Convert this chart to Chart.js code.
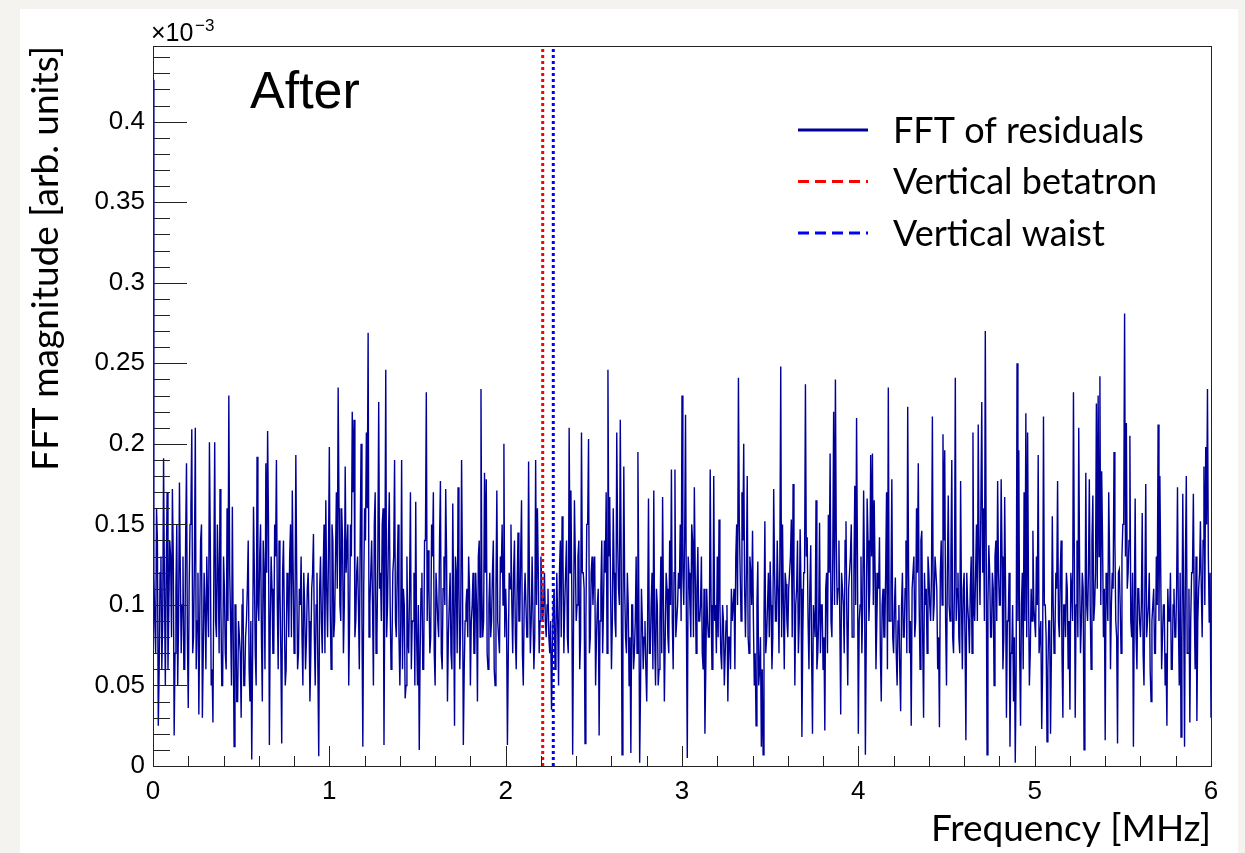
<!DOCTYPE html>
<html>
<head>
<meta charset="utf-8">
<script src="https://cdn.jsdelivr.net/npm/chart.js@4.4.0/dist/chart.umd.min.js"></script>
<style>
  html, body { margin: 0; padding: 0; background: #f4f3ef; width: 1245px; height: 853px; overflow: hidden; }
  #frame { position: absolute; left: 20px; top: 9px; width: 1218px; height: 844px; background: #fff; }
</style>
</head>
<body>
<div id="frame"><canvas id="fft" width="1218" height="844"></canvas></div>
<script>
// FFT magnitude (x1e-3 arb. units).
// magA*: values on the 0.01 MHz grid, magB*: the values half a bin later
const binWidth = 0.01
const magA0 = [0.426,0.09,0.16,0.025,0.12,0.06,0.191,0.05,0.17,0.10,0.13,0.172,0.019,0.11,0.05,0.176,0.07,0.13,0.06,0.188,
  0.036,0.15,0.209,0.08,0.21,0.09,0.032,0.14,0.03,0.12,0.06,0.10,0.201,0.05,0.027,0.201,0.08,0.12,0.172,0.05,
  0.13,0.07,0.16,0.23,0.09,0.161,0.012,0.10,0.04,0.08,0.03,0.11,0.05,0.09,0.14,0.04,0.004,0.161,0.07,0.192,
  0.09,0.15,0.04,0.12,0.188,0.208,0.013,0.13,0.07,0.15,0.19,0.06,0.11,0.014,0.14,0.05,0.12,0.08,0.15,0.171,
  0.07,0.193,0.06,0.11,0.13,0.05,0.10,0.078,0.12,0.04,0.11,0.144,0.05,0.12,0.006,0.13,0.07,0.15,0.165,0.08]
const magA1 = [0.198,0.06,0.14,0.09,0.17,0.235,0.10,0.16,0.07,0.186,0.12,0.05,0.15,0.22,0.215,0.09,0.13,0.06,0.20,0.012,
  0.16,0.207,0.269,0.10,0.14,0.05,0.17,0.08,0.226,0.12,0.15,0.013,0.246,0.10,0.17,0.06,0.12,0.19,0.08,0.15,
  0.05,0.19,0.11,0.042,0.13,0.07,0.17,0.09,0.12,0.164,0.05,0.01,0.11,0.06,0.14,0.232,0.134,0.07,0.15,0.17,
  0.05,0.12,0.08,0.177,0.06,0.13,0.172,0.04,0.10,0.07,0.163,0.025,0.12,0.173,0.06,0.19,0.013,0.09,0.11,0.13,
  0.05,0.10,0.07,0.12,0.04,0.14,0.234,0.08,0.182,0.178,0.06,0.12,0.09,0.14,0.05,0.171,0.08,0.13,0.15,0.20]
const magA2 = [0.11,0.013,0.12,0.15,0.07,0.14,0.06,0.145,0.09,0.165,0.05,0.12,0.08,0.189,0.07,0.13,0.06,0.19,0.16,0.07,
  0.13,0.09,0.12,0.08,0.11,0.07,0.035,0.10,0.06,0.12,0.05,0.14,0.155,0.07,0.12,0.08,0.21,0.171,0.007,0.165,
  0.09,0.13,0.06,0.207,0.12,0.014,0.15,0.203,0.08,0.13,0.12,0.05,0.10,0.019,0.11,0.07,0.14,0.17,0.246,0.167,
  0.06,0.16,0.09,0.207,0.11,0.215,0.007,0.186,0.08,0.12,0.05,0.008,0.10,0.07,0.13,0.195,0.002,0.11,0.06,0.09,
  0.04,0.166,0.07,0.12,0.171,0.05,0.10,0.06,0.13,0.167,0.04,0.12,0.08,0.14,0.184,0.06,0.184,0.09,0.12,0.15]
const magA3 = [0.23,0.10,0.218,0.005,0.12,0.08,0.14,0.173,0.07,0.136,0.09,0.13,0.06,0.02,0.11,0.08,0.184,0.06,0.18,0.10,
  0.13,0.153,0.07,0.10,0.05,0.09,0.04,0.08,0.11,0.10,0.06,0.15,0.241,0.12,0.17,0.20,0.08,0.18,0.07,0.12,
  0.146,0.05,0.025,0.127,0.06,0.012,0.007,0.152,0.08,0.12,0.127,0.06,0.172,0.09,0.14,0.07,0.248,0.15,0.06,0.113,
  0.08,0.12,0.153,0.175,0.05,0.11,0.07,0.147,0.018,0.12,0.237,0.142,0.06,0.137,0.02,0.09,0.165,0.07,0.151,0.10,
  0.06,0.022,0.12,0.156,0.194,0.08,0.22,0.24,0.10,0.14,0.032,0.11,0.07,0.152,0.05,0.12,0.15,0.08,0.174,0.216]
const magA4 = [0.02,0.10,0.07,0.171,0.007,0.166,0.09,0.193,0.194,0.165,0.06,0.12,0.142,0.04,0.11,0.08,0.17,0.235,0.09,0.178,
  0.07,0.117,0.05,0.10,0.034,0.12,0.08,0.14,0.223,0.07,0.025,0.11,0.08,0.16,0.188,0.06,0.146,0.03,0.10,0.07,
  0.12,0.09,0.217,0.10,0.13,0.06,0.024,0.14,0.206,0.196,0.05,0.168,0.09,0.19,0.07,0.241,0.11,0.08,0.177,0.06,
  0.12,0.016,0.10,0.07,0.13,0.207,0.09,0.15,0.212,0.10,0.226,0.16,0.27,0.007,0.137,0.08,0.12,0.05,0.14,0.177,
  0.10,0.178,0.06,0.167,0.03,0.09,0.012,0.07,0.04,0.002,0.25,0.196,0.025,0.12,0.17,0.219,0.207,0.05,0.11,0.146]
const magA5 = [0.09,0.13,0.193,0.07,0.023,0.217,0.10,0.015,0.09,0.02,0.155,0.07,0.12,0.177,0.08,0.14,0.03,0.10,0.12,0.06,
  0.035,0.11,0.232,0.03,0.14,0.21,0.07,0.12,0.01,0.182,0.09,0.178,0.06,0.168,0.10,0.225,0.23,0.242,0.183,0.08,
  0.016,0.11,0.17,0.06,0.12,0.195,0.09,0.014,0.122,0.07,0.15,0.281,0.213,0.12,0.205,0.08,0.012,0.166,0.06,0.11,
  0.08,0.157,0.05,0.175,0.09,0.12,0.04,0.10,0.07,0.13,0.212,0.18,0.06,0.10,0.05,0.025,0.09,0.12,0.06,0.11,
  0.08,0.173,0.05,0.018,0.169,0.012,0.18,0.07,0.027,0.12,0.169,0.06,0.028,0.11,0.152,0.08,0.186,0.198,0.234,0.089,
  0.03]

const magB0 = [0.12,0.07,0.14,0.06,0.13,0.09,0.11,0.12,0.06,0.14, 0.08,0.13,0.07,0.15,0.09,0.12,0.10,0.06,0.14,0.08,
  0.11,0.16,0.07,0.13,0.06,0.12,0.09,0.15,0.07,0.10, 0.13,0.08,0.14,0.06,0.12,0.09,0.15,0.07,0.10,0.05,
  0.11,0.06,0.09,0.12,0.05,0.08,0.10,0.04,0.09,0.07, 0.10,0.05,0.08,0.11,0.06,0.09,0.07,0.12,0.05,0.10,
  0.13,0.08,0.14,0.06,0.12,0.15,0.09,0.11,0.07,0.13, 0.10,0.14,0.07,0.12,0.09,0.06,0.11,0.13,0.08,0.12,
  0.09,0.12,0.07,0.10,0.08,0.12,0.06,0.11,0.09,0.07, 0.12,0.08,0.10,0.06,0.11,0.09,0.12,0.07,0.11,0.13]
const magB1 = [0.10,0.15,0.08,0.13,0.11,0.16,0.09,0.14,0.10,0.12, 0.15,0.09,0.13,0.17,0.08,0.12,0.10,0.14,0.09,0.11,
  0.14,0.16,0.08,0.12,0.10,0.15,0.07,0.13,0.11,0.09, 0.16,0.12,0.08,0.14,0.10,0.07,0.13,0.09,0.12,0.08,
  0.09,0.06,0.10,0.05,0.08,0.11,0.06,0.09,0.05,0.08, 0.10,0.07,0.12,0.06,0.14,0.09,0.11,0.08,0.13,0.07,
  0.12,0.09,0.14,0.07,0.11,0.10,0.13,0.08,0.12,0.06, 0.10,0.13,0.07,0.11,0.09,0.12,0.06,0.10,0.08,0.11,
  0.09,0.12,0.07,0.10,0.13,0.08,0.11,0.09,0.12,0.07, 0.10,0.08,0.12,0.06,0.11,0.09,0.07,0.12,0.10,0.08]
const magB2 = [0.09,0.07,0.11,0.10,0.12,0.08,0.11,0.09,0.13,0.07, 0.10,0.12,0.08,0.11,0.09,0.13,0.08,0.10,0.12,0.09,
  0.11,0.10,0.09,0.10,0.08,0.09,0.07,0.11,0.08,0.09, 0.12,0.08,0.13,0.10,0.14,0.07,0.12,0.11,0.09,0.13,
  0.10,0.14,0.08,0.12,0.11,0.09,0.15,0.07,0.12,0.10, 0.13,0.08,0.11,0.09,0.14,0.10,0.12,0.07,0.13,0.11,
  0.09,0.12,0.08,0.14,0.10,0.13,0.09,0.11,0.07,0.10, 0.08,0.10,0.06,0.09,0.07,0.11,0.05,0.09,0.08,0.06,
  0.09,0.07,0.10,0.06,0.08,0.11,0.05,0.09,0.07,0.10, 0.08,0.11,0.07,0.10,0.09,0.12,0.08,0.10,0.11,0.09]
const magB3 = [0.12,0.14,0.09,0.13,0.10,0.15,0.08,0.12,0.11,0.09, 0.10,0.07,0.11,0.06,0.09,0.08,0.10,0.06,0.09,0.07,
  0.08,0.10,0.06,0.09,0.07,0.10,0.08,0.06,0.09,0.11, 0.13,0.10,0.15,0.09,0.14,0.11,0.12,0.08,0.13,0.10,
  0.09,0.07,0.10,0.05,0.08,0.06,0.09,0.07,0.10,0.08, 0.10,0.08,0.12,0.09,0.11,0.13,0.08,0.10,0.12,0.09,
  0.11,0.13,0.08,0.12,0.10,0.14,0.09,0.11,0.08,0.12, 0.13,0.09,0.11,0.07,0.10,0.08,0.06,0.09,0.07,0.10,
  0.08,0.11,0.07,0.12,0.09,0.13,0.10,0.14,0.11,0.09, 0.12,0.10,0.14,0.09,0.11,0.13,0.08,0.12,0.10,0.13]
const magB4 = [0.09,0.13,0.10,0.12,0.08,0.14,0.11,0.13,0.10,0.12, 0.09,0.11,0.07,0.10,0.08,0.12,0.06,0.09,0.11,0.08,
  0.10,0.07,0.09,0.06,0.10,0.08,0.11,0.07,0.12,0.09, 0.11,0.13,0.09,0.12,0.10,0.14,0.08,0.12,0.11,0.13,
  0.10,0.12,0.09,0.13,0.11,0.08,0.12,0.10,0.14,0.09, 0.12,0.10,0.13,0.08,0.11,0.09,0.12,0.07,0.10,0.11,
  0.08,0.12,0.09,0.11,0.07,0.10,0.12,0.09,0.13,0.10, 0.12,0.09,0.14,0.10,0.12,0.08,0.11,0.13,0.09,0.12,
  0.10,0.13,0.08,0.11,0.09,0.12,0.07,0.10,0.08,0.06, 0.09,0.07,0.10,0.06,0.09,0.08,0.11,0.07,0.09,0.10]
const magB5 = [0.08,0.10,0.07,0.09,0.06,0.10,0.08,0.06,0.09,0.07, 0.10,0.08,0.11,0.09,0.12,0.07,0.10,0.08,0.11,0.09,
  0.12,0.09,0.13,0.10,0.08,0.12,0.09,0.11,0.07,0.10, 0.12,0.10,0.14,0.09,0.12,0.11,0.13,0.10,0.14,0.11,
  0.12,0.09,0.13,0.10,0.11,0.14,0.08,0.12,0.10,0.13, 0.15,0.13,0.11,0.14,0.09,0.12,0.10,0.08,0.11,0.09,
  0.10,0.07,0.11,0.08,0.10,0.06,0.09,0.11,0.07,0.10, 0.09,0.12,0.08,0.10,0.07,0.11,0.09,0.06,0.10,0.08,
  0.11,0.09,0.12,0.08,0.10,0.13,0.07,0.11,0.09,0.12, 0.10,0.13,0.09,0.12,0.11,0.14,0.10,0.15,0.13,0.12]

const markerNames = ['Vertical betatron', 'Vertical waist']
const markerFreqs = [2.21, 2.27]
const markerColors = ['#ff0000', '#0000ff']

const xTickValues = [0, 1, 2, 3, 4, 5, 6]
const xTickLabels = ['0', '1', '2', '3', '4', '5', '6']
const yTickValues = [0, 0.05, 0.1, 0.15, 0.2, 0.25, 0.3, 0.35, 0.4]
const yTickLabels = ['0', '0.05', '0.1', '0.15', '0.2', '0.25', '0.3', '0.35', '0.4']
const yAxisMax = 0.447

const fftColor = '#000099'
const onGrid = [].concat(magA0, magA1, magA2, magA3, magA4, magA5)
const halfBin = [].concat(magB0, magB1, magB2, magB3, magB4, magB5)
const fftPoints = []
onGrid.forEach((m, i) => {
  fftPoints.push({ x: i * binWidth, y: m })
  if (i < halfBin.length) fftPoints.push({ x: (i + 0.5) * binWidth, y: halfBin[i] })
})

const rootStyle = {
  id: 'rootStyle',
  afterDraw(chart) {
    const { ctx, chartArea: a, scales: { x, y } } = chart
    ctx.save()
    // inner ticks, ROOT style
    ctx.strokeStyle = '#222'
    ctx.lineWidth = 1
    ctx.beginPath()
    for (let k = 0; k <= 44; k++) {
      const py = Math.round(y.getPixelForValue(k * 0.01)) + 0.5
      const len = k % 5 === 0 ? 34 : 17
      ctx.moveTo(a.left, py); ctx.lineTo(a.left + len, py)
    }
    for (let k = 0; k <= 30; k++) {
      const px = Math.round(x.getPixelForValue(k * 0.2)) + 0.5
      const len = k % 5 === 0 ? 20 : 10
      ctx.moveTo(px, a.bottom); ctx.lineTo(px, a.bottom - len)
    }
    ctx.stroke()
    ctx.strokeRect(Math.round(a.left) + 0.5, Math.round(a.top) + 0.5, Math.round(a.right - a.left), Math.round(a.bottom - a.top))

    // exponent
    ctx.fillStyle = '#000'
    ctx.textBaseline = 'alphabetic'
    ctx.textAlign = 'left'
    ctx.font = '25px "Liberation Sans"'
    ctx.fillText('\u00d710', a.left - 2, 32)
    ctx.font = '17px "Liberation Sans"'
    ctx.fillText('\u22123', a.left + 42, 22)

    ctx.font = '52px "Liberation Sans"'
    ctx.fillText('After', 230, 99)

    // legend
    const items = [
      { label: 'FFT of residuals', color: fftColor, dash: [] },
      { label: markerNames[0], color: markerColors[0], dash: [11, 6] },
      { label: markerNames[1], color: markerColors[1], dash: [11, 6] }
    ]
    ctx.font = '36px Lato'
    ctx.textBaseline = 'middle'
    items.forEach((it, i) => {
      const ly = 121 + i * 51.5
      ctx.strokeStyle = it.color
      ctx.lineWidth = 3
      ctx.setLineDash(it.dash)
      ctx.beginPath(); ctx.moveTo(778, ly); ctx.lineTo(848, ly); ctx.stroke()
      ctx.setLineDash([])
      ctx.fillText(it.label, 873, ly + 1)
    })
    ctx.restore()
  }
}

const markerSets = markerFreqs.map((f, i) => ({
  label: markerNames[i],
  data: [{ x: f, y: 0 }, { x: f, y: yAxisMax }],
  borderColor: markerColors[i],
  borderWidth: 3,
  borderDash: [3, 3],
  pointRadius: 0,
  order: 0
}))

const ctx = document.getElementById('fft').getContext('2d')
const chart = new Chart(ctx, {
  type: 'line',
  data: {
    datasets: [
      ...markerSets,
      {
        label: 'FFT of residuals',
        data: fftPoints,
        borderColor: fftColor,
        borderWidth: 1.4,
        pointRadius: 0,
        tension: 0,
        order: 1
      }
    ]
  },
  options: {
    responsive: false,
    animation: false,
    events: [],
    layout: { padding: { top: 37, right: 27, left: 0, bottom: 0 } },
    plugins: { legend: { display: false }, tooltip: { enabled: false } },
    scales: {
      x: {
        type: 'linear',
        min: 0,
        max: 6,
        afterBuildTicks: s => { s.ticks = xTickValues.map(v => ({ value: v })) },
        afterFit: s => { s.height = 87 },
        ticks: {
          callback: (v, i) => xTickLabels[i],
          color: '#000',
          padding: 10,
          maxRotation: 0,
          font: { family: 'Liberation Sans', size: 26 }
        },
        grid: { display: false, drawTicks: false },
        border: { display: false },
        title: {
          display: true,
          text: 'Frequency [MHz]',
          align: 'end',
          color: '#000',
          font: { family: 'Lato', size: 37, lineHeight: 1 },
          padding: { top: 0, bottom: 5 }
        }
      },
      y: {
        type: 'linear',
        min: 0,
        max: yAxisMax,
        afterBuildTicks: s => { s.ticks = yTickValues.map(v => ({ value: v })) },
        afterFit: s => { s.width = 133 },
        ticks: {
          callback: (v, i) => yTickLabels[i],
          color: '#000',
          padding: 8,
          font: { family: 'Liberation Sans', size: 26 }
        },
        grid: { display: false, drawTicks: false },
        border: { display: false },
        title: {
          display: true,
          text: 'FFT magnitude [arb. units]',
          align: 'end',
          color: '#000',
          font: { family: 'Lato', size: 37, lineHeight: 1 },
          padding: { top: 8, bottom: 0 }
        }
      }
    }
  },
  plugins: [rootStyle]
})
</script>
</body>
</html>
